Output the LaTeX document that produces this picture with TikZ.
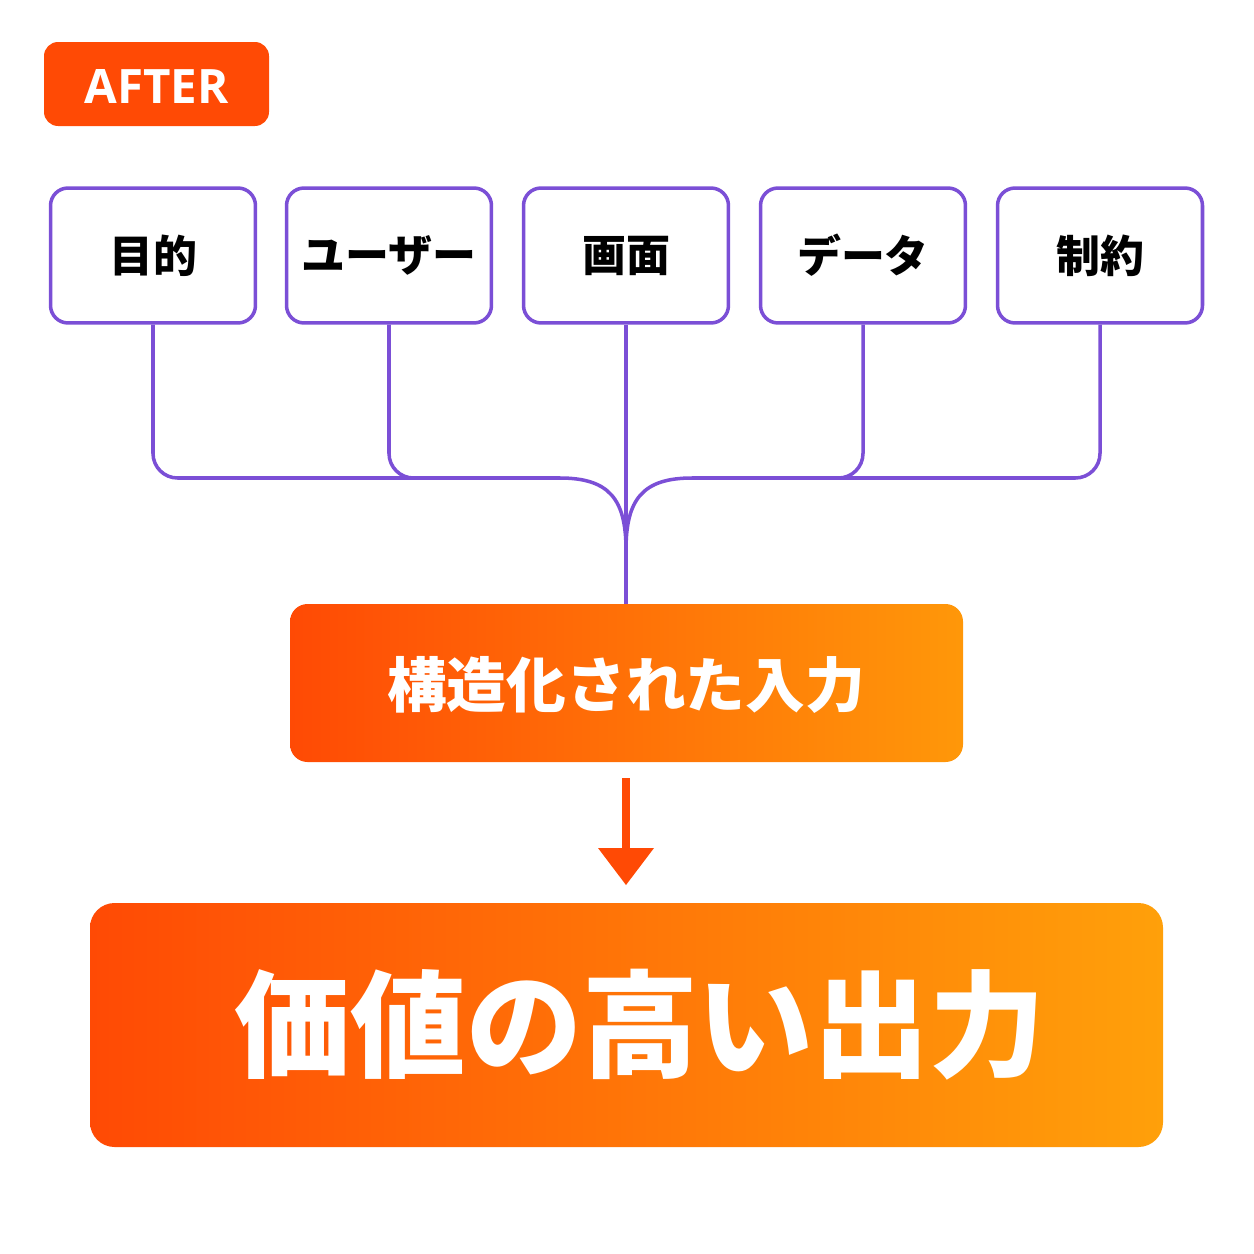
\documentclass[tikz,border=0pt]{standalone}
\usepackage{fontspec}
\setmainfont{Noto Sans CJK JP}
\newfontfamily\latin{Open Sans}
\begin{document}
\begin{tikzpicture}[x=0.02cm,y=-0.02cm,
  box/.style={draw=pur,line width=2pt,rounded corners=10pt,fill=white,minimum width=4.1cm,minimum height=2.7cm,font=\fontsize{25}{30}\selectfont\bfseries},
  wire/.style={draw=pur,line width=2pt}]
\definecolor{pur}{HTML}{7B4FD6}
\definecolor{oA}{HTML}{FF4A05}
\definecolor{oB}{HTML}{FFA00A}
\useasboundingbox (0,0) rectangle (1254,1254);
\fill[oA,rounded corners=8pt] (44,42) rectangle (269,126);
\node[text=white,font=\latin\fontsize{27}{30}\selectfont\bfseries] (after) at (156.5,86) {AFTER};
\foreach \n/\x/\t in {a/153/目的,b/389/ユーザー,c/626/画面,d/863/データ,e/1100/制約}
  \node[box] (\n) at (\x,255.5) {\t};
\coordinate (m) at (626,550);
\draw[wire,rounded corners=14pt] (a.south) -- (153,478) -- (560,478);
\draw[wire,rounded corners=14pt] (b.south) -- (389,478) -- (420,478);
\draw[wire] (560,478) .. controls (610,478) and (626,500) .. (m);
\draw[wire,rounded corners=14pt] (e.south) -- (1100,478) -- (692,478);
\draw[wire,rounded corners=14pt] (d.south) -- (863,478) -- (830,478);
\draw[wire] (692,478) .. controls (642,478) and (626,500) .. (m);
\draw[wire] (c.south) -- (626,604);
\shade[left color=oA,right color=oB!90!oA,rounded corners=10pt] (290,604) rectangle (963,762);
\node[text=white,font=\fontsize{34}{40}\selectfont\bfseries] (mid) at (626,685) {構造化された入力};
\shade[left color=oA,right color=oB,rounded corners=14pt] (90,903) rectangle (1163,1147);
\node[text=white,font=\fontsize{66}{74}\selectfont\bfseries] (out) at (640,1025) {価値の高い出力};
\coordinate (s) at (626,778);
\coordinate (t) at (626,885);
\draw[oA,line width=5pt] (s) -- (626,850);
\fill[oA] (598,848) -- (654,848) -- (t) -- cycle;
\end{tikzpicture}
\end{document}
